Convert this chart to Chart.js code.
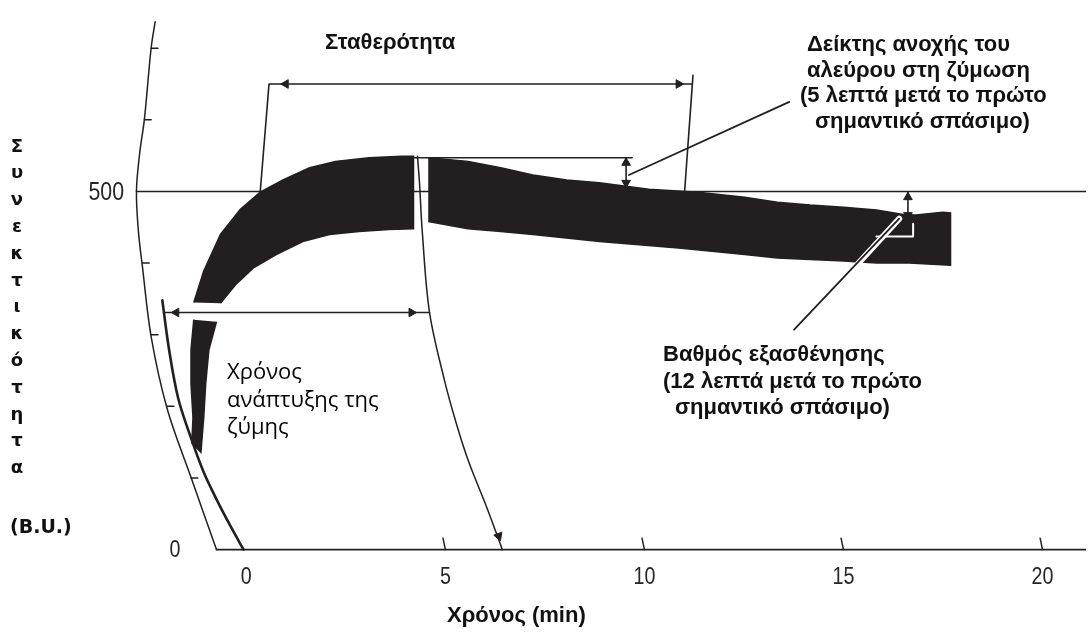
<!DOCTYPE html>
<html>
<head>
<meta charset="utf-8">
<script src="https://cdn.jsdelivr.net/npm/chart.js@4.4.1/dist/chart.umd.min.js"></script>
<style>
  html, body { margin: 0; padding: 0; background: #fff; }
  #wrap { width: 1092px; height: 639px; position: relative; }
</style>
</head>
<body>
<div id="wrap"><canvas id="chart"></canvas></div>
<script>
// axis ticks (time in min, consistency in B.U.)
const xTicks = [0, 5, 10, 15, 20];
const arcTickBU = [100, 200, 300, 400, 600, 700];
const arcTickMin = [-1.39, -1.99, -2.39, -2.61, -2.56, -2.39];

// farinogram band before the break
const bandATopT  = [-1.32, -1.07, -0.65, -0.15, 0.35, 0.92, 1.59, 2.24, 3.08, 3.90, 4.20];
const bandATopBU = [345, 389, 440, 475, 499, 516, 533, 542, 547, 549, 549];
const bandABotT  = [-0.65, -0.25, 0.17, 0.75, 1.42, 2.09, 2.83, 3.58, 4.20];
const bandABotBU = [344, 371, 393, 412, 430, 440, 444, 447, 448];

// farinogram band after the break
const bandBTopT  = [4.57, 5.57, 6.39, 7.20, 8.05, 8.87, 10.11, 11.35, 12.52, 13.34, 14.16, 15.01, 15.83, 16.50, 16.82, 17.49, 17.69];
const bandBTopBU = [547, 542, 533, 523, 516, 512, 503, 499, 492, 485, 481, 478, 474, 468, 467, 471, 470];
const bandBBotT  = [4.57, 5.57, 6.39, 7.20, 8.87, 10.86, 12.52, 13.34, 14.16, 15.01, 15.83, 16.65, 17.69];
const bandBBotBU = [458, 448, 444, 440, 430, 421, 412, 407, 405, 403, 400, 400, 397];

// start of the trace (pen swinging up)
const tailT  = [-1.32, -1.39, -1.39, -1.34, -1.37, -1.14, -1.07, -1.02, -0.94, -0.75];
const tailBU = [321, 279, 232, 184, 149, 136, 184, 232, 279, 318];

// curved recorder lines
const outerArcT  = [-2.29, -2.39, -2.56, -2.68, -2.76, -2.71, -2.61, -2.39, -1.99, -1.39, -0.75];
const outerArcBU = [737, 701, 601, 553, 500, 444, 395, 297, 197, 101, 0];
const zeroArcT   = [-2.11, -1.94, -1.71, -1.39, -1.07, -0.72, -0.40, -0.07];
const zeroArcBU  = [348, 279, 211, 156, 108, 67, 33, 0];
const devArcT    = [4.30, 4.35, 4.42, 4.60, 4.97, 5.27, 5.57, 6.06, 6.43];
const devArcBU   = [549, 512, 444, 332, 238, 177, 125, 56, 0];

// arrowheads: time, B.U., direction (deg)
const arrowT   = [-1.76, 4.15, 0.99, 10.86, 6.34, 9.54, 9.54, 16.62, 16.62];
const arrowBU  = [331, 331, 650, 650, 19, 540, 512, 492, 467];
const arrowDir = [270, 90, 270, 90, 160, 0, 180, 0, 180];

const INK = '#231f20';
const pts = (ts, vs) => ts.map((t, i) => ({ x: t, y: vs[i] }));
const poly = (tT, tV, bT, bV) => pts(tT, tV).concat(pts(bT, bV).reverse());

function stroke(data, extra) {
  return Object.assign({
    type: 'line', data, borderColor: INK, borderWidth: 1.6, pointRadius: 0,
    fill: false, tension: 0, order: 3, borderJoinStyle: 'round', borderCapStyle: 'round'
  }, extra);
}
function area(data) {
  return {
    type: 'line', data, borderColor: INK, backgroundColor: INK, borderWidth: 1.5,
    pointRadius: 0, fill: 'shape', tension: 0, order: 5
  };
}

const datasets = [
  stroke(pts([-2.76, 21.1], [500, 500]), { order: 10, borderWidth: 1.5 }),
  stroke(pts([-0.75, 21.1], [0, 0]), { order: 10, borderWidth: 1.8 }),
  area(poly(bandATopT, bandATopBU, bandABotT, bandABotBU)),
  area(poly(bandBTopT, bandBTopBU, bandBBotT, bandBBotBU)),
  area(pts(tailT, tailBU)),
  stroke(pts(outerArcT, outerArcBU), { tension: 0.35, borderWidth: 1.5 }),
  stroke(pts(zeroArcT, zeroArcBU), { tension: 0.35, borderWidth: 2.6 }),
  stroke(pts(devArcT, devArcBU), { tension: 0.35, borderWidth: 1.5 }),
  // development time
  stroke(pts([-2.06, 4.60], [331, 331])),
  // stability bracket
  stroke(pts([0.35, 0.57, 11.20], [500, 650, 650])),
  stroke(pts([11.22, 11.01], [662, 500])),
  // tolerance index
  stroke(pts([4.20, 9.69], [547, 547])),
  stroke(pts([9.54, 9.54], [547, 505])),
  stroke(pts([9.61, 13.64], [523, 625]), { borderWidth: 1.8 }),
  // degree of softening
  stroke(pts([16.62, 16.62], [499, 462])),
  stroke(pts([15.38, 16.40], [400, 462]), { borderColor: '#fff', borderWidth: 6, order: 2 }),
  stroke(pts([15.83, 16.75, 16.75], [437, 437, 455]), { borderColor: '#fff', borderWidth: 2, order: 2 }),
  stroke(pts([13.76, 16.40], [307, 462]), { borderWidth: 1.8, order: 1 }),
  {
    type: 'line', data: pts(arrowT, arrowBU), showLine: false, order: 0,
    pointStyle: 'triangle', pointRadius: 5, pointRotation: arrowDir,
    pointBackgroundColor: INK, pointBorderColor: INK, pointBorderWidth: 1
  }
];

// small tick marks on the base line and on the curved B.U. scale
xTicks.slice(1).forEach(t => datasets.push(stroke(pts([t, t - 0.06], [0, 16]), { borderWidth: 1.5 })));
arcTickBU.forEach((v, i) => datasets.push(stroke(pts([arcTickMin[i], arcTickMin[i] + 0.17], [v, v]), { borderWidth: 1.5 })));

function narrow(ctx, text, px, py, align) {
  ctx.save();
  ctx.translate(px, py);
  ctx.scale(0.82, 1);
  ctx.textAlign = align || 'center';
  ctx.fillText(text, 0, 0);
  ctx.restore();
}

function block(ctx, lines, xs, y0, step) {
  lines.forEach((s, i) => ctx.fillText(s, Array.isArray(xs) ? xs[i] : xs, y0 + i * step));
}

const textPlugin = {
  id: 'texts',
  afterDraw(chart) {
    const { ctx, scales: { x, y } } = chart;
    ctx.save();
    ctx.fillStyle = '#262626';
    ctx.textBaseline = 'middle';
    ctx.font = '24px "Liberation Sans", Arial, sans-serif';
    xTicks.forEach(t => narrow(ctx, String(t), x.getPixelForValue(t), y.getPixelForValue(0) + 28));
    ctx.font = '26px "Liberation Sans", Arial, sans-serif';
    narrow(ctx, '500', 124, y.getPixelForValue(500) + 1, 'right');
    ctx.font = '24px "Liberation Sans", Arial, sans-serif';
    narrow(ctx, '0', 175, y.getPixelForValue(0) + 1);

    ctx.fillStyle = '#111';
    ctx.textAlign = 'left';
    ctx.font = 'bold 22px "Liberation Sans", Arial, sans-serif';
    ctx.fillText('Σταθερότητα', 325, 43);
    block(ctx, ['Δείκτης ανοχής του', 'αλεύρου στη ζύμωση', '(5 λεπτά μετά το πρώτο', 'σημαντικό σπάσιμο)'],
      [807, 807, 800, 815], 45, 25.7);
    block(ctx, ['Βαθμός εξασθένησης', '(12 λεπτά μετά το πρώτο', 'σημαντικό σπάσιμο)'],
      [663, 663, 675], 355, 26.5);
    ctx.fillText('Χρόνος (min)', 447, 616);

    ctx.fillStyle = '#050505';
    ctx.font = '22px "Open Sans", sans-serif';
    ctx.textBaseline = 'alphabetic';
    block(ctx, ['Χρόνος', 'ανάπτυξης της', 'ζύμης'], 227, 379, 27.5);

    ctx.fillStyle = '#111';
    ctx.textBaseline = 'middle';
    ctx.textAlign = 'center';
    ctx.font = 'bold 18px "DejaVu Sans", sans-serif';
    'Συνεκτικότητα'.split('').forEach((c, i) => ctx.fillText(c, 17, 147 + i * 26.8));
    ctx.textAlign = 'left';
    ctx.font = 'bold 19px "DejaVu Sans", sans-serif';
    ctx.fillText('(B.U.)', 10, 528);
    ctx.restore();
  }
};

new Chart(document.getElementById('chart'), {
  type: 'line',
  data: { datasets },
  options: {
    responsive: true,
    maintainAspectRatio: false,
    animation: false,
    layout: { padding: 0 },
    plugins: { legend: { display: false }, tooltip: { enabled: false } },
    scales: {
      x: { type: 'linear', min: -6.037, max: 21.093, display: false },
      y: { type: 'linear', min: -116.4, max: 758.9, display: false }
    }
  },
  plugins: [textPlugin]
});
</script>
</body>
</html>
